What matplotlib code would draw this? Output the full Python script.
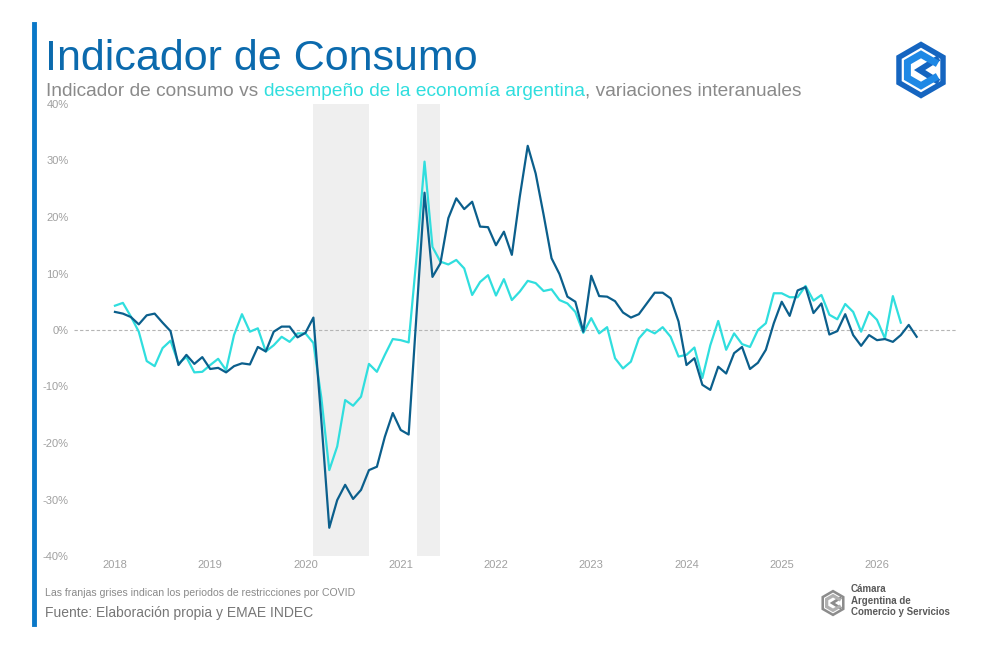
import numpy as np
import matplotlib.pyplot as plt
from matplotlib.patches import Polygon

# monthly year-on-year changes (%), starting January 2018
consumo = [3.2, 2.9, 2.3, 1.0, 2.6, 2.9, 1.3, -0.2, -6.2, -4.4, -6.0, -4.8,
           -6.9, -6.7, -7.5, -6.4, -5.9, -6.1, -3.0, -3.8, -0.3, 0.6, 0.6, -1.3,
           -0.5, 2.2, -16.0, -35.0, -30.1, -27.4, -29.9, -28.3, -24.8, -24.2, -18.9, -14.7,
           -17.7, -18.5, 3.0, 24.3, 9.4, 11.8, 19.8, 23.3, 21.4, 22.7, 18.3, 18.2,
           15.0, 17.4, 13.3, 23.6, 32.6, 27.7, 20.4, 12.7, 9.9, 5.9, 5.0, -0.3,
           9.6, 6.0, 5.9, 5.1, 3.1, 2.2, 2.8, 4.7, 6.6, 6.6, 5.6, 1.5,
           -6.2, -5.0, -9.7, -10.6, -6.5, -7.7, -4.1, -3.0, -6.9, -5.8, -3.5, 1.2,
           5.0, 2.5, 7.0, 7.6, 3.0, 4.7, -0.8, -0.2, 2.8, -0.9, -2.8, -0.9,
           -1.8, -1.6, -2.1, -0.9, 0.9, -1.2]

emae = [4.3, 4.8, 2.4, -0.3, -5.5, -6.4, -3.2, -1.9, -5.9, -4.8, -7.5, -7.4,
        -6.2, -5.1, -7.1, -0.9, 2.8, -0.3, 0.3, -3.8, -2.7, -1.2, -2.1, -0.6,
        -0.6, -2.3, -12.0, -24.8, -20.6, -12.4, -13.4, -11.8, -6.0, -7.4, -4.4, -1.6,
        -1.8, -2.2, 13.0, 29.8, 14.7, 12.1, 11.6, 12.4, 10.9, 6.2, 8.5, 9.7,
        6.1, 9.0, 5.3, 6.8, 8.7, 8.3, 6.9, 7.2, 5.3, 4.7, 3.2, -0.5,
        2.1, -0.6, 0.5, -5.0, -6.8, -5.6, -1.5, 0.1, -0.6, 0.5, -1.2, -4.7,
        -4.4, -3.1, -8.5, -2.7, 1.6, -3.5, -0.6, -2.5, -3.0, 0.0, 1.2, 6.5,
        6.5, 5.8, 5.8, 7.8, 5.2, 6.2, 2.7, 1.9, 4.6, 3.2, -0.3, 3.2,
        1.8, -1.5, 6.0, 1.3]

years = [2018, 2019, 2020, 2021, 2022, 2023, 2024, 2025, 2026]
y_ticks = [-40, -30, -20, -10, 0, 10, 20, 30, 40]
covid_bands = [("2020-02", "2020-09"), ("2021-03", "2021-06")]


def to_x(ym):
    y, m = ym.split("-")
    return int(y) + (int(m) - 1) / 12


x_consumo = years[0] + np.arange(len(consumo)) / 12
x_emae = years[0] + np.arange(len(emae)) / 12

dark = "#0b5f8c"
cyan = "#30dede"
gray_txt = "#8a8a8a"
plt.rcParams["font.family"] = ["Liberation Sans", "DejaVu Sans"]

fig = plt.figure(figsize=(9.92, 6.47), dpi=100)
W, H = 992, 647

ax = fig.add_axes([74 / W, 1 - 556 / H, (957 - 74) / W, (556 - 104) / H])
for a, b in covid_bands:
    ax.axvspan(to_x(a), to_x(b), color="#efefef", lw=0, zorder=0)
ax.axhline(0, color="#b5b5b5", lw=0.8, ls=(0, (3, 2)), zorder=1)
ax.plot(x_emae, emae, color=cyan, lw=1.6, zorder=2)
ax.plot(x_consumo, consumo, color=dark, lw=1.6, zorder=3)

ax.set_xlim(2017.57, 2026.84)
ax.set_ylim(-40, 40)
ax.set_xticks(years)
ax.set_xticklabels([str(y) for y in years], fontsize=8, color="#a0a0a0")
ax.set_yticks(y_ticks)
ax.set_yticklabels([f"{v}%" for v in y_ticks], fontsize=8, color="#a0a0a0")
ax.tick_params(length=0, pad=4)
ax.tick_params(axis="x", pad=3)
for s in ax.spines.values():
    s.set_visible(False)

# left accent bar
fig.add_artist(plt.Line2D([33.5 / W, 33.5 / W], [1 - 624 / H, 1 - 24 / H],
                          color="#0a78c8", lw=3.5, transform=fig.transFigure))

fig.text(45 / W, 1 - 70 / H, "Indicador de Consumo", fontsize=31, color="#0b6aad",
         va="baseline", ha="left")

# subtitle with coloured middle part
parts = [("Indicador de consumo vs ", gray_txt),
         ("desempeño de la economía argentina", cyan),
         (", variaciones interanuales", gray_txt)]
fig.canvas.draw()
r = fig.canvas.get_renderer()
xpos = 46
for txt, col in parts:
    t = fig.text(xpos / W, 1 - 96 / H, txt, fontsize=13.8, color=col, va="baseline", ha="left")
    xpos += t.get_window_extent(renderer=r).width

fig.text(45 / W, 1 - 596 / H, "Las franjas grises indican los periodos de restricciones por COVID",
         fontsize=7.6, color=gray_txt, va="baseline")
fig.text(45 / W, 1 - 617 / H, "Fuente: Elaboración propia y EMAE INDEC",
         fontsize=10, color="#777777", va="baseline")


def hexagon(r):
    ang = np.radians([90, 150, 210, 270, 330, 30])
    return np.column_stack([r * np.cos(ang), r * np.sin(ang)])


def draw_logo(rect, c1, c2):
    lax = fig.add_axes(rect)
    lax.set_xlim(-1.05, 1.05)
    lax.set_ylim(-1.05, 1.05)
    lax.set_aspect("equal")
    lax.axis("off")
    lax.add_patch(Polygon(hexagon(1.0), closed=True, fc=c1, ec="none"))
    lax.add_patch(Polygon(hexagon(0.78), closed=True, fc="white", ec="none"))
    inner = hexagon(0.55)
    arc = np.vstack([inner[5], inner[0], inner[1], inner[2], inner[3], inner[4]])
    lax.plot(arc[:, 0], arc[:, 1], color=c2, lw=rect[2] * W / 12, solid_joinstyle="miter")
    lax.add_patch(Polygon([[0.62, 0.42], [-0.05, 0.0], [0.62, -0.42]], closed=False,
                          fill=False, ec=c1, lw=rect[2] * W / 14, joinstyle="miter"))


draw_logo([891 / W, 1 - 102 / H, 60 / W, 64 / H], "#1565c0", "#1e88e5")
draw_logo([819 / W, 1 - 619 / H, 28 / W, 32 / H], "#8c8c8c", "#b0b0b0")
fig.text(851 / W, 1 - 584 / H, "Cámara\nArgentina de\nComercio y Servicios",
         fontsize=7, color="#5a5a5a", va="top", ha="left", linespacing=1.2, weight="bold")

fig.savefig("out.png", dpi=100)
